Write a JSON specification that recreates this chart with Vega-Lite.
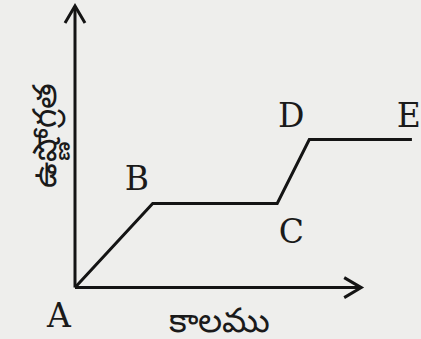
{
  "$schema": "https://vega.github.io/schema/vega-lite/v6.json",
  "autosize": {"type": "fit", "contains": "padding"},
  "width": 421,
  "height": 339,
  "padding": 0,
  "background": "#eeeeec",
  "config": {"view": {"stroke": null}},
  "datasets": {
    "curve": [
      {"point": "A", "time": 0, "temp": 0},
      {"point": "B", "time": 25.9, "temp": 27.8},
      {"point": "C", "time": 67.4, "temp": 27.8},
      {"point": "D", "time": 78.1, "temp": 48.9},
      {"point": "E", "time": 112.3, "temp": 48.9}
    ],
    "axes": [
      {"name": "time", "x": 0, "x2": 95.4, "y": 0, "y2": 0},
      {"name": "temp", "x": 0, "x2": 0, "y": 0, "y2": 93}
    ],
    "labels": [
      {"label": "A", "x": -5.4, "y": -9.8},
      {"label": "B", "x": 20.6, "y": 35.6},
      {"label": "C", "x": 72.1, "y": 18.1},
      {"label": "D", "x": 72.1, "y": 56.4},
      {"label": "E", "x": 111.3, "y": 56.4}
    ],
    "titles": [
      {"title": "కాలము", "x": 48.2, "y": -11.4}
    ],
    "ytitle": [
      {"title": "ఉష్ణోగ్రత", "x": -9.6, "y": 50.2}
    ]
  },
  "layer": [
    {
      "data": {"name": "axes"},
      "mark": {"type": "rule", "color": "#141414", "strokeWidth": 3},
      "encoding": {
        "x": {"field": "x", "type": "quantitative", "scale": {"domain": [-25, 115], "nice": false, "zero": false}, "axis": null},
        "x2": {"field": "x2"},
        "y": {"field": "y", "type": "quantitative", "scale": {"domain": [-15, 95], "nice": false, "zero": false}, "axis": null},
        "y2": {"field": "y2"}
      }
    },
    {
      "data": {"name": "axes"},
      "transform": [{"filter": "datum.name === 'time'"}],
      "mark": {"type": "point", "shape": "M-1.7,-1L0,0L-1.7,1", "size": 400, "filled": false, "color": "#141414", "strokeWidth": 3, "opacity": 1},
      "encoding": {
        "x": {"field": "x2", "type": "quantitative", "scale": {"domain": [-25, 115], "nice": false, "zero": false}, "axis": null},
        "y": {"field": "y2", "type": "quantitative", "scale": {"domain": [-15, 95], "nice": false, "zero": false}, "axis": null}
      }
    },
    {
      "data": {"name": "axes"},
      "transform": [{"filter": "datum.name === 'temp'"}],
      "mark": {"type": "point", "shape": "M-1,1.7L0,0L1,1.7", "size": 400, "filled": false, "color": "#141414", "strokeWidth": 3, "opacity": 1},
      "encoding": {
        "x": {"field": "x2", "type": "quantitative", "scale": {"domain": [-25, 115], "nice": false, "zero": false}, "axis": null},
        "y": {"field": "y2", "type": "quantitative", "scale": {"domain": [-15, 95], "nice": false, "zero": false}, "axis": null}
      }
    },
    {
      "data": {"name": "curve"},
      "mark": {"type": "line", "color": "#141414", "strokeWidth": 3, "strokeJoin": "miter"},
      "encoding": {
        "x": {"field": "time", "type": "quantitative", "scale": {"domain": [-25, 115], "nice": false, "zero": false}, "axis": null},
        "y": {"field": "temp", "type": "quantitative", "scale": {"domain": [-15, 95], "nice": false, "zero": false}, "axis": null},
        "order": {"field": "time"}
      }
    },
    {
      "data": {"name": "labels"},
      "mark": {"type": "text", "font": "DejaVu Serif", "fontSize": 33, "color": "#1a1a1a", "align": "center", "baseline": "middle"},
      "encoding": {
        "x": {"field": "x", "type": "quantitative", "scale": {"domain": [-25, 115], "nice": false, "zero": false}, "axis": null},
        "y": {"field": "y", "type": "quantitative", "scale": {"domain": [-15, 95], "nice": false, "zero": false}, "axis": null},
        "text": {"field": "label"}
      }
    },
    {
      "data": {"name": "titles"},
      "mark": {"type": "text", "fontSize": 34, "color": "#1a1a1a", "align": "center", "baseline": "middle"},
      "encoding": {
        "x": {"field": "x", "type": "quantitative", "scale": {"domain": [-25, 115], "nice": false, "zero": false}, "axis": null},
        "y": {"field": "y", "type": "quantitative", "scale": {"domain": [-15, 95], "nice": false, "zero": false}, "axis": null},
        "text": {"field": "title"}
      }
    },
    {
      "data": {"name": "ytitle"},
      "mark": {"type": "text", "fontSize": 33, "color": "#1a1a1a", "align": "center", "baseline": "middle", "angle": 270},
      "encoding": {
        "x": {"field": "x", "type": "quantitative", "scale": {"domain": [-25, 115], "nice": false, "zero": false}, "axis": null},
        "y": {"field": "y", "type": "quantitative", "scale": {"domain": [-15, 95], "nice": false, "zero": false}, "axis": null},
        "text": {"field": "title"}
      }
    }
  ]
}
